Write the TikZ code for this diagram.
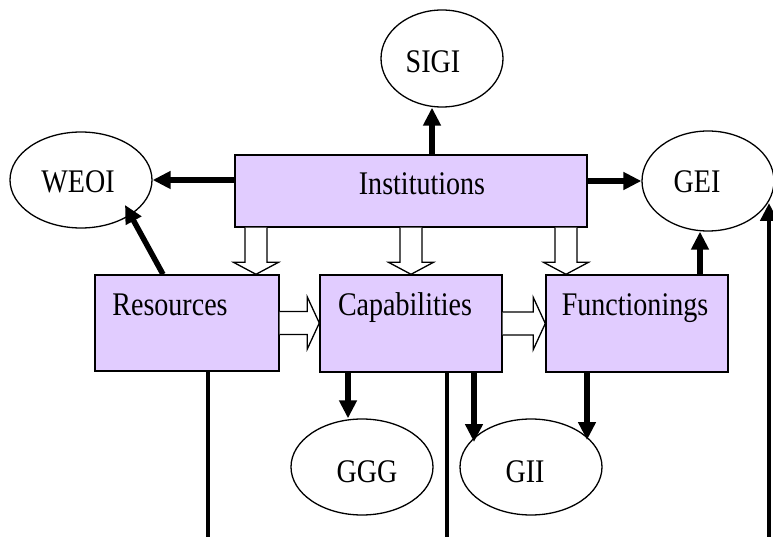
\documentclass[tikz,border=0pt]{standalone}
\usepackage{fontspec}
\setmainfont{Liberation Serif}[FakeStretch=0.85]
\usetikzlibrary{arrows.meta,calc,shapes.geometric}
\definecolor{boxfill}{RGB}{225,204,255}
\newcommand\vhol[2]{\draw[hollow] let \p1=(#1), \p2=(#2) in
  (\x1-11pt,\y1) -- (\x1-11pt,\y2+12pt) -- (\x1-22.5pt,\y2+12pt) -- (\x1,\y2)
  -- (\x1+22.5pt,\y2+12pt) -- (\x1+11pt,\y2+12pt) -- (\x1+11pt,\y1);}
\newcommand\hhol[2]{\draw[hollow] let \p1=(#1), \p2=(#2) in
  (\x1,\y1+11.5pt) -- (\x2-12pt,\y1+11.5pt) -- (\x2-12pt,\y1+26pt) -- (\x2,\y1)
  -- (\x2-12pt,\y1-26pt) -- (\x2-12pt,\y1-11.5pt) -- (\x1,\y1-11.5pt);}
\begin{document}
\begin{tikzpicture}[x=1pt,y=-1pt,
  box/.style={draw=black,line width=1.4pt,fill=boxfill,rectangle,inner sep=0pt},
  oval/.style={draw=black,line width=1.3pt,ellipse,inner sep=0pt,fill=white},
  lab/.style={anchor=base,inner sep=0pt,font=\fontsize{33}{38}\selectfont},
  tarrow/.style={line width=5.5pt,-{Triangle[length=18pt,width=17pt]}},
  tline/.style={line width=4.5pt},
  hollow/.style={draw=black,line width=1.3pt,fill=white,line join=miter}]
\useasboundingbox (0,0) rectangle (773,537);

% boxes
\node[box,minimum width=352pt,minimum height=72pt] (inst) at (411,191) {};
\node[box,minimum width=184pt,minimum height=96pt] (res) at (187,323) {};
\node[box,minimum width=182pt,minimum height=97pt] (cap) at (411,323.5) {};
\node[box,minimum width=182pt,minimum height=97pt] (fun) at (637,323.5) {};

% ellipses
\node[oval,minimum width=142pt,minimum height=96pt] (weoi) at (81,180) {};
\node[oval,minimum width=132pt,minimum height=100pt] (gei) at (708,181) {};
\node[oval,minimum width=122pt,minimum height=97pt] (sigi) at (442,58.5) {};
\node[oval,minimum width=142pt,minimum height=96pt] (ggg) at (362,467) {};
\node[oval,minimum width=142pt,minimum height=96pt] (gii) at (531,467) {};

% texts
\node[lab] (instT) at ($(inst.center)+(11,4)$) {Institutions};
\node[lab] (resT) at ($(res.center)+(-17,-8)$) {Resources};
\node[lab] (capT) at ($(cap.center)+(-6,-8.5)$) {Capabilities};
\node[lab] (funT) at ($(fun.center)+(-2,-8.5)$) {Functionings};
\node[lab] (weoiT) at ($(weoi.center)+(-3,13)$) {WEOI};
\node[lab] (geiT) at ($(gei.center)+(-11,12)$) {GEI};
\node[lab] (sigiT) at ($(sigi.center)+(-9,14.5)$) {SIGI};
\node[lab] (gggT) at ($(ggg.center)+(5,15)$) {GGG};
\node[lab] (giiT) at ($(gii.center)+(-6,15)$) {GII};

% hollow arrows
\coordinate (v1) at ($(inst.south)+(-155,0)$);
\coordinate (v2) at (inst.south);
\coordinate (v3) at ($(inst.south)+(155,0)$);
\vhol{v1}{res.north}
\vhol{v2}{cap.north}
\vhol{v3}{fun.north}
\hhol{res.east}{cap.west}
\hhol{cap.east}{fun.west}

% thick arrows
\coordinate (s1) at ($(inst.north)+(21,0)$);
\draw[tarrow] (s1) -- (s1 |- sigi.south);
\draw[tarrow] (inst.west |- weoi.east) -- (weoi.east);
\draw[tarrow] (inst.east |- gei.west) -- (gei.west);
\coordinate (s2) at ($(res.north)+(-24,0)$);
\draw[tarrow] (s2) -- ($(weoi.center)+(44,25)$);
\coordinate (s3) at ($(fun.north)+(63,0)$);
\draw[tarrow] (s3) -- (s3 |- gei.south);
\coordinate (s4) at ($(cap.south)+(-63,0)$);
\draw[tarrow] (s4) -- (s4 |- ggg.north);
\coordinate (s5) at ($(cap.south)+(63,0)$);
\draw[tarrow] (s5) -- ($(gii.center)+(-57,-25)$);
\coordinate (s6) at ($(fun.south)+(-50,0)$);
\draw[tarrow] (s6) -- ($(gii.center)+(56,-27)$);

% long lines
\coordinate (bot) at (0,545);
\coordinate (l1) at ($(res.south)+(21,0)$);
\draw[tline] (l1) -- (l1 |- bot);
\coordinate (l2) at ($(cap.south)+(36,0)$);
\draw[tline] (l2) -- (l2 |- bot);
\coordinate (l3) at (769,545);
\draw[tarrow,line width=4.5pt] (l3) -- ($(gei.center)+(61,22)$);
\end{tikzpicture}
\end{document}
